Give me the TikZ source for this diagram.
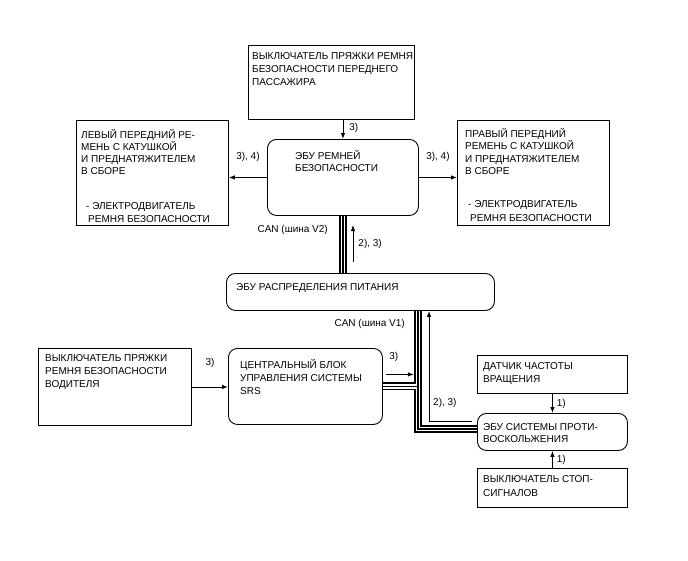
\documentclass[tikz,border=0pt]{standalone}
\usepackage{fontspec}
\setmainfont{Liberation Sans}
\usetikzlibrary{arrows.meta}

\tikzset{
  blk/.style={draw, line width=0.9pt, anchor=north west, inner sep=0pt},
  ecu/.style={blk, rounded corners=9pt},
  txt/.style={anchor=north west, align=left, inner sep=0pt, font=\fontsize{10}{12.5}\selectfont,
    execute at begin node={\rule{0pt}{10pt}}},
  con/.style={line width=0.9pt, -{Latex[length=6pt,width=4.5pt]}},
  lbl/.style={inner sep=0pt, font=\fontsize{10}{12}\selectfont},
  bus/.style={line width=1.2pt, preaction={draw, line width=8pt}, preaction={draw=white, line width=4.6pt}},
}

\begin{document}
\begin{tikzpicture}[x=1pt, y=-1pt]
    \useasboundingbox (0,0) rectangle (688,560);

    % upper group
    \node [blk, minimum width=166pt, minimum height=74pt,
      label={[txt, xshift=4pt, yshift=-7pt]north west:{ВЫКЛЮЧАТЕЛЬ ПРЯЖКИ РЕМНЯ\\[0.5pt]БЕЗОПАСНОСТИ ПЕРЕДНЕГО\\[0.5pt]ПАССАЖИРА}}] (pasw) at (248,45) {};
    \node [ecu, minimum width=151pt, minimum height=76pt,
      label={[txt, xshift=28pt, yshift=-11pt]north west:{ЭБУ РЕМНЕЙ\\БЕЗОПАСНОСТИ}}] (becu) at (267,139) {};
    \node [blk, minimum width=152pt, minimum height=105pt,
      label={[txt, xshift=5pt, yshift=-9pt]north west:{ЛЕВЫЙ ПЕРЕДНИЙ РЕ-\\[-0.5pt]МЕНЬ С КАТУШКОЙ\\[-0.5pt]И ПРЕДНАТЯЖИТЕЛЕМ\\[-0.5pt]В СБОРЕ\\[23pt]\hspace*{5pt}- ЭЛЕКТРОДВИГАТЕЛЬ\\\hspace*{7pt}РЕМНЯ БЕЗОПАСНОСТИ}}] (lbelt) at (76,120) {};
    \node [blk, minimum width=152pt, minimum height=105pt,
      label={[txt, xshift=8pt, yshift=-8pt]north west:{ПРАВЫЙ ПЕРЕДНИЙ\\РЕМЕНЬ С КАТУШКОЙ\\И ПРЕДНАТЯЖИТЕЛЕМ\\В СБОРЕ\\[20pt]\hspace*{3pt}- ЭЛЕКТРОДВИГАТЕЛЬ\\[2pt]\hspace*{5pt}РЕМНЯ БЕЗОПАСНОСТИ}}] (rbelt) at (457,120) {};
    \node [ecu, minimum width=268pt, minimum height=37pt,
      label={[txt, xshift=10pt, yshift=-7pt]north west:{ЭБУ РАСПРЕДЕЛЕНИЯ ПИТАНИЯ}}] (pecu) at (226,273) {};

    % lower group
    \node [blk, minimum width=153pt, minimum height=77pt,
      label={[txt, xshift=7pt, yshift=-6pt]north west:{ВЫКЛЮЧАТЕЛЬ ПРЯЖКИ\\[0.5pt]РЕМНЯ БЕЗОПАСНОСТИ\\[0.5pt]ВОДИТЕЛЯ}}] (dsw) at (38,348) {};
    \node [ecu, minimum width=154pt, minimum height=76pt,
      label={[txt, xshift=12pt, yshift=-11pt]north west:{ЦЕНТРАЛЬНЫЙ БЛОК\\[0.5pt]УПРАВЛЕНИЯ СИСТЕМЫ\\[0.5pt]SRS}}] (srs) at (228,348) {};
    \node [blk, minimum width=150pt, minimum height=38pt,
      label={[txt, xshift=6pt, yshift=-7pt]north west:{ДАТЧИК ЧАСТОТЫ\\[0.5pt]ВРАЩЕНИЯ}}] (spd) at (477,355) {};
    \node [ecu, minimum width=150pt, minimum height=37pt,
      label={[txt, xshift=6pt, yshift=-10pt]north west:{ЭБУ СИСТЕМЫ ПРОТИ-\\ВОСКОЛЬЖЕНИЯ}}] (abs) at (477,413) {};
    \node [blk, minimum width=150pt, minimum height=39pt,
      label={[txt, xshift=6pt, yshift=-7pt]north west:{ВЫКЛЮЧАТЕЛЬ СТОП-\\[1.5pt]СИГНАЛОВ}}] (stop) at (477,468) {};

    % buses
    \coordinate (bj) at (418,429);
    \draw [bus] (becu.south) -- (becu.south |- pecu.north);
    \draw [bus] (pecu.south -| bj) -- (bj) -- (bj -| abs.west)
                (srs.east) -- (srs.east -| bj);
    \node [lbl, anchor=east] (canv2) at (328,230) {CAN (шина V2)};
    \node [lbl, anchor=east] (canv1) at (405,324) {CAN (шина V1)};

    % signals
    \draw [con] (becu.north |- pasw.south) -- (becu.north)
        node [lbl, pos=0.4, right=6pt] (l3a) {3)};
    \draw [con] (becu.west) -- (becu.west -| lbelt.east)
        node [lbl, midway, above=15pt] (l34a) {3), 4)};
    \draw [con] (becu.east) -- (becu.east -| rbelt.west)
        node [lbl, midway, above=15pt] (l34b) {3), 4)};
    \coordinate (v2a) at (353,262);
    \coordinate (v2b) at (353,225);
    \draw [con] (v2a) -- (v2b)
        node [lbl, midway, right=5pt] (l23a) {2), 3)};
    \draw [con] (dsw.east) -- (dsw.east -| srs.west)
        node [lbl, midway, above=19pt] (l3b) {3)};
    \draw [con, shorten <=3pt] ([yshift=12pt]srs.east) -- ++(31,0)
        node [lbl, pos=0.35, above=12pt] (l3c) {3)};
    \coordinate (rx) at (429,0);
    \draw [con, shorten <=5pt] ([yshift=10.5pt]abs.west) -| (rx |- pecu.south);
    \node [lbl, anchor=west] (l23b) at (433,403) {2), 3)};
    \draw [con] (spd.south) -- (abs.north)
        node [lbl, midway, right=4pt] (l1a) {1)};
    \draw [con] (stop.north) -- (abs.south)
        node [lbl, midway, right=4pt] (l1b) {1)};

\end{tikzpicture}
\end{document}
